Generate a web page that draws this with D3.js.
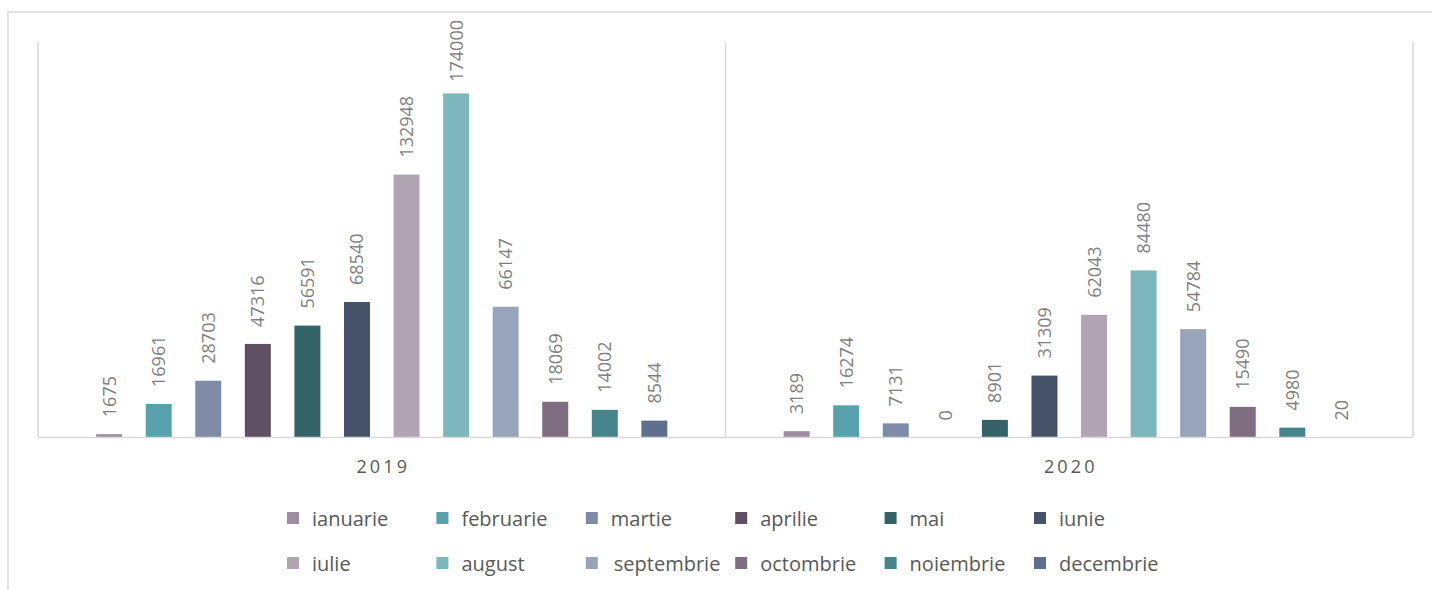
<!DOCTYPE html>
<html>
<head>
<meta charset="utf-8">
<script src="https://cdn.jsdelivr.net/npm/d3@7"></script>
<style>
  html, body { margin: 0; padding: 0; background: #ffffff; }
  svg { display: block; }
</style>
</head>
<body>
<svg id="chart" width="1432" height="590"></svg>
<script>
// ---- data ----
const years = ["2019", "2020"];
const months = ["ianuarie", "februarie", "martie", "aprilie", "mai", "iunie",
                "iulie", "august", "septembrie", "octombrie", "noiembrie", "decembrie"];
const values2019 = [1675, 16961, 28703, 47316, 56591, 68540, 132948, 174000, 66147, 18069, 14002, 8544];
const values2020 = [3189, 16274, 7131, 0, 8901, 31309, 62043, 84480, 54784, 15490, 4980, 20];
const monthColors = ["#9d8e9f", "#58a2ad", "#7e8ca8", "#5e5062", "#336367", "#465369",
                     "#b1a5b3", "#7db6bd", "#98a4ba", "#7f6e80", "#46858c", "#5e6f8f"];
const yDomain = [0, 200000];

const seriesByYear = { "2019": values2019, "2020": values2020 };

// ---- layout ----
const svg = d3.select("#chart");
const plot = { left: 38, right: 1413, top: 42, bottom: 437.5 };
const gridColor = "#d9d9d9";

// outer chart border (top & left visible)
svg.append("path")
  .attr("d", "M8,590 L8,12 L1432,12")
  .attr("fill", "none").attr("stroke", gridColor).attr("stroke-width", 1.5);

const x0 = d3.scaleBand().domain(years).range([plot.left, plot.right]).padding(0);
const x1 = d3.scaleBand().domain(months).range([0, x0.bandwidth()])
  .paddingInner(0.476).paddingOuter(1.173).align(0.5);
const y = d3.scaleLinear().domain(yDomain).range([plot.bottom, plot.top]);

// vertical separators
const seps = [plot.left].concat(years.map(yr => x0(yr) + x0.bandwidth()));
svg.append("g").selectAll("line").data(seps).join("line")
  .attr("x1", d => d).attr("x2", d => d)
  .attr("y1", plot.top).attr("y2", plot.bottom)
  .attr("stroke", gridColor).attr("stroke-width", 1.5);

// bars
const groups = svg.append("g").selectAll("g").data(years).join("g")
  .attr("transform", yr => `translate(${x0(yr)},0)`);

groups.selectAll("rect")
  .data(yr => months.map((m, i) => ({ m, i, v: seriesByYear[yr][i] })))
  .join("rect")
  .attr("x", d => x1(d.m))
  .attr("width", x1.bandwidth())
  .attr("y", d => y(d.v))
  .attr("height", d => y(0) - y(d.v))
  .attr("fill", d => monthColors[d.i]);

// value labels (rotated)
groups.selectAll("text.val")
  .data(yr => months.map((m, i) => ({ m, i, v: seriesByYear[yr][i] })))
  .join("text")
  .attr("class", "val")
  .attr("font-family", "'Open Sans', sans-serif")
  .attr("font-size", 18)
  .attr("fill", "#7f7f7f")
  .attr("text-anchor", "start")
  .attr("dy", "0.36em")
  .text(d => d.v)
  .each(function (d) {
    const len = this.getComputedTextLength();
    const cx = x1(d.m) + x1.bandwidth() / 2;
    const yb = Math.max(y(d.v) - 17, 20 + len);
    d3.select(this).attr("transform", `translate(${cx},${yb}) rotate(-90)`);
  });

// baseline axis
const xAxis = d3.axisBottom(x0).tickSize(0).tickPadding(0);
const axG = svg.append("g").attr("transform", `translate(0,${plot.bottom})`).call(xAxis);
axG.select(".domain").attr("stroke", gridColor).attr("stroke-width", 1.5)
  .attr("d", `M${plot.left},0H${plot.right}`);
axG.selectAll(".tick text")
  .attr("font-family", "'Open Sans', sans-serif")
  .attr("font-size", 18)
  .attr("fill", "#595959")
  .attr("letter-spacing", "3.2px")
  .attr("dx", "1.6px")
  .attr("dy", 0)
  .attr("y", 35);

// legend
const legendCols = 6, colStep = 149.4, legX = 287, rowBase = [526, 571];
const leg = svg.append("g").selectAll("g").data(months).join("g")
  .attr("transform", (m, i) => `translate(${legX + (i % legendCols) * colStep},${rowBase[Math.floor(i / legendCols)]})`);
leg.append("rect")
  .attr("x", 0).attr("y", -14).attr("width", 12).attr("height", 12)
  .attr("fill", (m, i) => monthColors[i]);
leg.append("text")
  .attr("x", (m) => m === "septembrie" ? 28 : 25)
  .attr("y", 0)
  .attr("font-family", "'Open Sans', sans-serif")
  .attr("font-size", 20)
  .attr("fill", "#595959")
  .text(m => m);
</script>
</body>
</html>
